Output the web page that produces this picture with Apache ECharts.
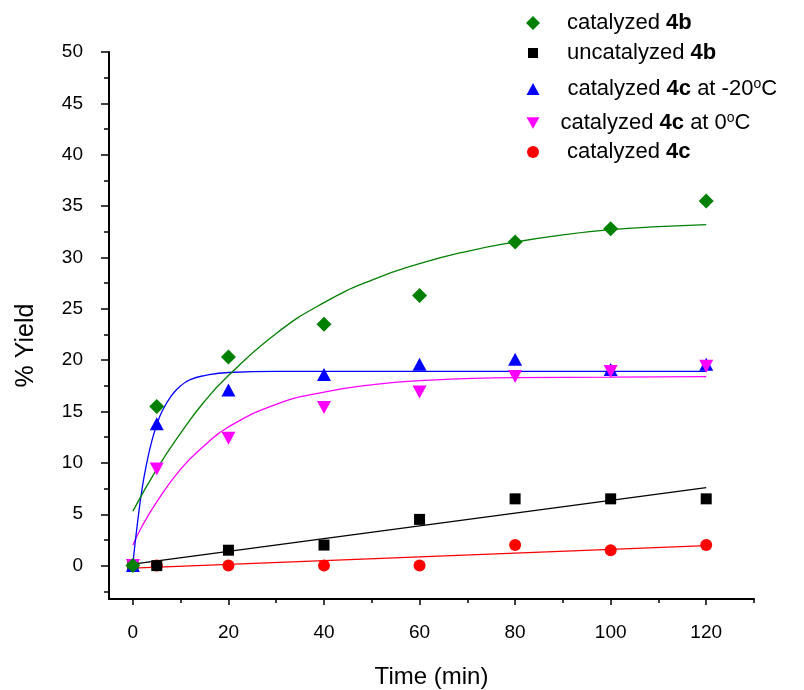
<!DOCTYPE html>
<html>
<head>
<meta charset="utf-8">
<script src="https://cdn.jsdelivr.net/npm/echarts@6/dist/echarts.min.js"></script>
<style>
  html, body { margin: 0; padding: 0; background: #fff; }
  #main { width: 804px; height: 690px; }
</style>
</head>
<body>
<div id="main"></div>
<script>
// measured points
const times = [0, 5, 20, 40, 60, 80, 100, 120]
const cat4b = [0, 15.5, 20.3, 23.5, 26.3, 31.5, 32.8, 35.5]
const uncat4b = [0, 0, 1.5, 2.0, 4.5, 6.5, 6.5, 6.5]
const cat4cM20 = [0, 13.8, 17.1, 18.6, 19.6, 20.1, 19.1, 19.6]
const cat4c0 = [0, 9.4, 12.4, 15.4, 16.9, 18.4, 18.9, 19.4]
const cat4c = [0, 0, 0, 0, 0, 2.0, 1.5, 2.0]

// fitted curves
const fit4bT = [0, 5, 10, 15, 20, 30, 40, 50, 60, 70, 80, 90, 100, 110, 120]
const fit4bY = [5.3, 9.4, 12.9, 16.0, 18.5, 22.6, 25.6, 27.8, 29.4, 30.6, 31.5, 32.2, 32.7, 33.0, 33.2]
const fitM20T = [0, 1, 2, 3, 4, 5, 6, 8, 10, 12, 15, 20, 30, 60, 90, 120]
const fitM20Y = [0.2, 4.3, 7.7, 10.2, 12.2, 13.7, 14.9, 16.5, 17.5, 18.1, 18.5, 18.8, 18.9, 18.9, 18.9, 18.9]
const fit0T = [0, 2, 5, 10, 15, 20, 30, 40, 50, 60, 80, 100, 120]
const fit0Y = [2.0, 3.9, 6.2, 9.4, 11.7, 13.5, 15.7, 16.9, 17.6, 18.0, 18.3, 18.35, 18.4]
const fitUncatT = [0, 120]
const fitUncatY = [0.15, 7.6]
const fit4cT = [0, 120]
const fit4cY = [-0.25, 1.95]

const xTicks = [0, 20, 40, 60, 80, 100, 120]
const xMinor = [10, 30, 50, 70, 90, 110, 130]
const yTicks = [0, 5, 10, 15, 20, 25, 30, 35, 40, 45, 50]
const yMinor = [-2.5, 2.5, 7.5, 12.5, 17.5, 22.5, 27.5, 32.5, 37.5, 42.5, 47.5]

const FONT = 'Liberation Sans, Arial, sans-serif'
const pairs = (xs, ys) => xs.map((x, i) => [x, ys[i]])

const chart = echarts.init(document.getElementById('main'))

const legendRows = [
  { name: 'catalyzed 4b', icon: 'diamond', top: 25, w: 14, h: 14, pad: 22 },
  { name: 'uncatalyzed 4b', icon: 'rect', top: 55, w: 10, h: 10, pad: 24 },
  { name: 'catalyzed 4c at -20oC', icon: 'triangle', top: 90, w: 13, h: 12, pad: 23 },
  { name: 'catalyzed 4c at 0oC', icon: 'path://M0,0 L10,0 L5,9 Z', top: 124, w: 13, h: 12, pad: 16 },
  { name: 'catalyzed 4c', icon: 'circle', top: 154, w: 12, h: 12, pad: 23 }
]

const richLabel = {
  cat4b: '{n|catalyzed }{b|4b}',
  uncat4b: '{n|uncatalyzed }{b|4b}',
  m20: '{n|catalyzed }{b|4c}{t| at -20}{s|o}{t|C}',
  z0: '{n|catalyzed }{b|4c}{t| at 0}{s|o}{t|C}',
  cat4c: '{n|catalyzed }{b|4c}'
}
const labelKey = {
  'catalyzed 4b': 'cat4b',
  'uncatalyzed 4b': 'uncat4b',
  'catalyzed 4c at -20oC': 'm20',
  'catalyzed 4c at 0oC': 'z0',
  'catalyzed 4c': 'cat4c'
}

const legends = legendRows.map(r => ({
  orient: 'vertical',
  left: 533 - r.w / 2,
  top: r.top - 13,
  padding: 0,
  selectedMode: false,
  itemWidth: r.w,
  itemHeight: r.h,
  data: [{ name: r.name, icon: r.icon }],
  formatter: name => richLabel[labelKey[name]],
  textStyle: {
    fontFamily: FONT,
    fontSize: 22,
    color: '#000',
    rich: {
      n: { fontFamily: FONT, fontSize: 22, color: '#000', padding: [0, 0, 0, r.pad] },
      b: { fontFamily: FONT, fontSize: 22, fontWeight: 'bold', color: '#000' },
      t: { fontFamily: FONT, fontSize: 22, color: '#000' },
      s: { fontFamily: FONT, fontSize: 14, color: '#000', verticalAlign: 'top', padding: [0, 0, 10, 0] }
    }
  }
}))

const fitLine = (data, color) => ({
  type: 'line',
  data: data,
  showSymbol: false,
  smooth: true,
  lineStyle: { color: color, width: 1.3 },
  z: 2,
  silent: true
})

const option = {
  animation: false,
  backgroundColor: '#fff',
  legend: legends,
  grid: { left: 109, right: 50, top: 52, bottom: 91, outerBoundsMode: 'none', containLabel: false },
  xAxis: [
    {
      type: 'value', min: -5, max: 130,
      name: 'Time (min)', nameLocation: 'middle', nameGap: 66,
      nameTextStyle: { fontFamily: FONT, fontSize: 24, color: '#000' },
      axisLine: { onZero: false, lineStyle: { color: '#000', width: 2 } },
      axisTick: { customValues: xTicks, length: 6, lineStyle: { color: '#000', width: 1.5 } },
      axisLabel: { customValues: xTicks, margin: 24, fontFamily: FONT, fontSize: 19, color: '#000' },
      splitLine: { show: false }
    },
    {
      type: 'value', min: -5, max: 130, position: 'bottom',
      axisLine: { show: false, onZero: false },
      axisTick: { customValues: xMinor, length: 4, lineStyle: { color: '#000', width: 1.5 } },
      axisLabel: { show: false, customValues: xMinor },
      splitLine: { show: false }
    }
  ],
  yAxis: [
    {
      type: 'value', min: -3.25, max: 50,
      name: '% Yield', nameLocation: 'middle', nameGap: 70, nameRotate: 90,
      nameTextStyle: { fontFamily: FONT, fontSize: 25, color: '#000', padding: [0, 40, 0, 0] },
      axisLine: { show: true, onZero: false, lineStyle: { color: '#000', width: 2 } },
      axisTick: { show: true, customValues: yTicks, length: 8, lineStyle: { color: '#000', width: 1.5 } },
      axisLabel: { customValues: yTicks, margin: 26, fontFamily: FONT, fontSize: 19, color: '#000' },
      splitLine: { show: false }
    },
    {
      type: 'value', min: -3.25, max: 50, position: 'left',
      axisLine: { show: false, onZero: false },
      axisTick: { show: true, customValues: yMinor, length: 5, lineStyle: { color: '#000', width: 1.5 } },
      axisLabel: { show: false, customValues: yMinor },
      splitLine: { show: false }
    }
  ],
  series: [
    fitLine(pairs(fit4cT, fit4cY), '#ff0000'),
    fitLine(pairs(fitUncatT, fitUncatY), '#000000'),
    fitLine(pairs(fit0T, fit0Y), '#ff00ff'),
    fitLine(pairs(fitM20T, fitM20Y), '#0000ff'),
    fitLine(pairs(fit4bT, fit4bY), '#008000'),
    {
      name: 'catalyzed 4c', type: 'scatter', symbol: 'circle', symbolSize: 12,
      itemStyle: { color: '#ff0000', opacity: 1 }, z: 3,
      data: pairs(times, cat4c)
    },
    {
      name: 'uncatalyzed 4b', type: 'scatter', symbol: 'rect', symbolSize: 11,
      itemStyle: { color: '#000000', opacity: 1 }, z: 4,
      data: pairs(times, uncat4b)
    },
    {
      name: 'catalyzed 4c at -20oC', type: 'scatter', symbol: 'triangle', symbolSize: [14, 13],
      itemStyle: { color: '#0000ff', opacity: 1 }, z: 5,
      data: pairs(times, cat4cM20)
    },
    {
      name: 'catalyzed 4c at 0oC', type: 'scatter', symbol: 'triangle', symbolRotate: 180, symbolSize: [14, 13],
      itemStyle: { color: '#ff00ff', opacity: 1 }, z: 6,
      data: pairs(times, cat4c0)
    },
    {
      name: 'catalyzed 4b', type: 'scatter', symbol: 'diamond', symbolSize: 15,
      itemStyle: { color: '#008000', opacity: 1 }, z: 7,
      data: pairs(times, cat4b)
    }
  ]
}

chart.setOption(option)
</script>
</body>
</html>
